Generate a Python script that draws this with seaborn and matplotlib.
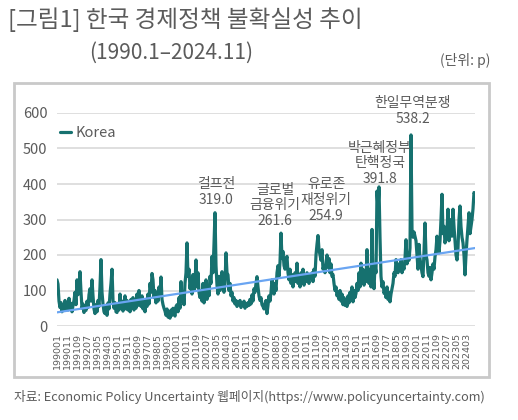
import matplotlib
matplotlib.use('Agg')
import matplotlib.pyplot as plt
from matplotlib.patches import Rectangle
import numpy as np
import pandas as pd
import seaborn as sns

# Korea EPU index, monthly 1990.1 - 2024.11
kor_1990s = [
    130, 118, 70, 52, 66, 40, 58, 44, 72, 50, 62, 45,
    78, 52, 64, 40, 58, 72, 95, 60, 130, 88, 110, 153,
    96, 50, 62, 38, 55, 44, 70, 52, 88, 105, 70, 130,
    85, 48, 35, 60, 40, 72, 55, 110, 187, 95, 62, 40,
    35, 58, 30, 65, 48, 90, 120, 160, 72, 50, 66, 40,
    38, 62, 45, 90, 55, 70, 42, 60, 85, 48, 72, 45,
    60, 40, 75, 52, 80, 45, 66, 50, 90, 58, 100, 70,
    55, 85, 48, 68, 40, 72, 55, 90, 62, 120, 95, 148,
    130, 80, 100, 65, 90, 70, 110, 85, 138, 75, 60, 50,
    42, 30, 48, 25, 38, 22, 45, 30, 50, 35, 28, 55,
]
kor_2000s = [
    60, 40, 80, 50, 125, 70, 95, 60, 120, 150, 234, 140,
    160, 105, 130, 90, 145, 100, 120, 186, 110, 150, 95, 80,
    100, 70, 120, 65, 90, 130, 75, 110, 85, 140, 120, 196,
    150, 230, 319.0, 170, 115, 90, 140, 100, 125, 153, 110, 95,
    120, 206, 150, 144, 100, 120, 85, 95, 70, 80, 62, 72,
    55, 68, 60, 72, 52, 65, 58, 70, 50, 62, 55, 66,
    58, 75, 62, 88, 70, 105, 95, 120, 139, 110, 85, 72,
    80, 60, 55, 48, 62, 72, 35, 58, 85, 70, 95, 130,
    111, 90, 120, 100, 150, 170, 140, 180, 261.6, 190, 210, 170,
    160, 185, 196, 150, 130, 160, 120, 145, 110, 135, 150, 125,
]
kor_2010s = [
    177, 120, 140, 110, 150, 130, 160, 115, 140, 125, 150, 130,
    120, 145, 135, 150, 125, 160, 140, 200, 230, 254.9, 215, 200,
    185, 215, 160, 170, 150, 175, 200, 165, 190, 150, 175, 140,
    145, 120, 100, 110, 85, 95, 75, 100, 70, 90, 60, 80,
    58, 70, 55, 85, 65, 95, 75, 110, 68, 100, 80, 92,
    120, 100, 150, 110, 177, 130, 160, 115, 140, 125, 215, 130,
    120, 160, 110, 272, 140, 105, 170, 150, 380, 330, 391.8, 250,
    140, 110, 125, 92, 100, 80, 110, 75, 95, 68, 90, 105,
    120, 150, 140, 187, 165, 150, 175, 160, 187, 150, 170, 160,
    190, 243, 175, 200, 185, 220, 538.2, 272, 250, 265, 253, 240,
]
kor_2020s = [
    200, 160, 230, 190, 170, 150, 139, 210, 290, 200, 186, 150,
    140, 165, 130, 150, 175, 160, 195, 215, 253, 225, 206, 240,
    300, 371, 260, 281, 234, 250, 270, 329, 240, 260, 300, 253,
    329, 280, 240, 200, 186, 220, 300, 338, 280, 250, 234, 200,
    144, 200, 243, 280, 319, 260, 281, 300, 330, 376, 370,
]

events = ['걸프전', '글로벌\n금융위기', '유로존\n재정위기', '박근혜정부\n탄핵정국', '한일무역분쟁']
event_months = ['2003-03', '2008-09', '2011-10', '2016-11', '2019-07']

months = pd.period_range('1990-01', '2024-11', freq='M')
df = pd.DataFrame({'t': np.arange(len(months)),
                   'value': kor_1990s + kor_2000s + kor_2010s + kor_2020s})
slope, icpt = np.polyfit(df['t'], df['value'], 1)
df['trend'] = icpt + slope * df['t']

sns.set_style('white')
plt.rcParams['font.family'] = ['Noto Sans CJK KR', 'DejaVu Sans']
grey = '#5b5b5b'

fig = plt.figure(figsize=(5.18, 4.2), dpi=100)
ax = fig.add_axes([57 / 518, 1 - 326 / 420, 418 / 518, 213 / 420])

sns.lineplot(data=df, x='t', y='value', ax=ax, color='#16716f', linewidth=2.3, label='Korea')
sns.lineplot(data=df, x='t', y='trend', ax=ax, color='#6aa5f2', linewidth=1.6)

ax.set_xlim(0, len(df) - 1)
ax.set_ylim(0, 600)
ax.set_yticks(range(0, 601, 100))
ax.yaxis.grid(True, color='#dcdcdc', linewidth=1.3)
ax.set_axisbelow(True)
for s in ax.spines.values():
    s.set_visible(False)
ax.set_xlabel('')
ax.set_ylabel('')
ticks = df['t'][::10]
ax.set_xticks(ticks)
ax.set_xticklabels([months[i].strftime('%Y%m') for i in ticks], rotation=90,
                   fontsize=6.8, color=grey, family=['Liberation Sans Narrow', 'DejaVu Sans'])
ax.tick_params(axis='y', labelsize=10.5, colors=grey, length=0, pad=7)
ax.tick_params(axis='x', length=0, pad=5)

leg = ax.legend(loc='upper left', bbox_to_anchor=(-0.025, 1.0), frameon=False,
                handlelength=0.8, handletextpad=0.3, fontsize=10.5)
for t in leg.get_texts():
    t.set_color(grey)

offsets = [(1, 6), (-6, 5), (8, 13), (1, 1), (2, 9)]
for name, m, off in zip(events, event_months, offsets):
    i = months.get_loc(pd.Period(m, freq='M'))
    v = df['value'][i]
    ax.annotate(f'{name}\n{v:.1f}', xy=(i, v), xytext=off, textcoords='offset pixels',
                ha='center', va='bottom', fontsize=10, color=grey, linespacing=1.15,
                annotation_clip=False)

fig.add_artist(Rectangle((14 / 518, 1 - 377 / 420), 475 / 518, 294 / 420, fill=False,
                         edgecolor='#c9c9c9', linewidth=2, transform=fig.transFigure))
fig.text(8 / 518, 1 - 20 / 420, '[그림1] 한국 경제정책 불확실성 추이', fontsize=17,
         color=grey, va='center', ha='left')
fig.text(171 / 518, 1 - 53 / 420, '(1990.1–2024.11)', fontsize=15, color=grey,
         va='center', ha='center')
fig.text(490 / 518, 1 - 61 / 420, '(단위: p)', fontsize=10, color=grey, va='center', ha='right')
fig.text(14 / 518, 1 - 397 / 420,
         '자료: Economic Policy Uncertainty 웹페이지(https://www.policyuncertainty.com)',
         fontsize=9.2, color=grey, va='center', ha='left')

fig.savefig('out.png', dpi=100)
